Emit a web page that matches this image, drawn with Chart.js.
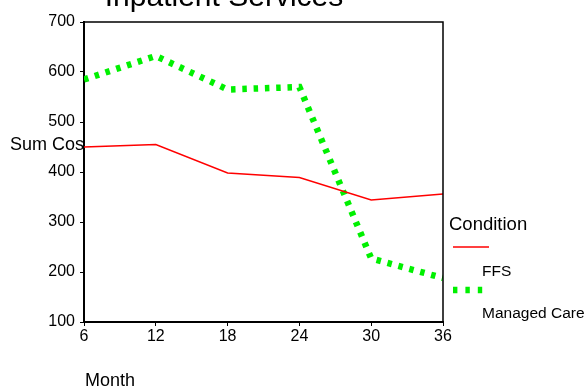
<!DOCTYPE html>
<html>
<head>
<meta charset="utf-8">
<script src="https://cdn.jsdelivr.net/npm/chart.js@4/dist/chart.umd.min.js"></script>
<style>
  html, body { margin: 0; padding: 0; background: #fff; }
  #wrap { width: 588px; height: 392px; position: relative; }
</style>
</head>
<body>
<div id="wrap"><canvas id="chart"></canvas></div>
<script>
// values
const months = [6, 12, 18, 24, 30, 36];
const ffsCost = [450, 455, 398, 389, 344, 356];
const managedCareCost = [585, 632, 565, 570, 227, 188];
const yTicks = [100, 200, 300, 400, 500, 600, 700];
const xTicks = [6, 12, 18, 24, 30, 36];

const FONT = '"Liberation Sans", Arial, sans-serif';
const toPoints = vals => months.map((m, i) => ({ x: m, y: vals[i] }));

// title, axis titles, frame and legend are drawn by hand to match the SPSS-style layout
const decorations = {
    id: 'decorations',
    afterDraw(chart) {
        const ctx = chart.ctx;
        const a = chart.chartArea;
        ctx.save();

        // frame top/right
        ctx.strokeStyle = '#000';
        ctx.lineWidth = 1.5;
        ctx.beginPath();
        ctx.moveTo(a.left, a.top);
        ctx.lineTo(a.right, a.top);
        ctx.lineTo(a.right, a.bottom);
        ctx.stroke();

        ctx.fillStyle = '#000';
        ctx.textBaseline = 'alphabetic';

        // title (runs off the top edge)
        ctx.font = '30px ' + FONT;
        ctx.textAlign = 'center';
        ctx.fillText('Inpatient Services', 224, 6);

        // y title, clipped by the plot frame
        ctx.save();
        ctx.beginPath();
        ctx.rect(0, 0, a.left - 1, chart.height);
        ctx.clip();
        ctx.font = '18px ' + FONT;
        ctx.textAlign = 'left';
        ctx.fillText('Sum Cost', 10, 150);
        ctx.restore();

        // x title
        ctx.font = '18px ' + FONT;
        ctx.textAlign = 'left';
        ctx.fillText('Month', 85, 386);

        // legend
        const ds = chart.data.datasets;
        ctx.font = '18.5px ' + FONT;
        ctx.fillText('Condition', 449, 230);

        ctx.strokeStyle = ds[0].borderColor;
        ctx.lineWidth = ds[0].borderWidth;
        ctx.beginPath();
        ctx.moveTo(453, 247);
        ctx.lineTo(489, 247);
        ctx.stroke();

        ctx.font = '15.5px ' + FONT;
        ctx.fillText(ds[0].label, 482, 276);

        ctx.strokeStyle = ds[1].borderColor;
        ctx.lineWidth = ds[1].borderWidth;
        ctx.setLineDash([4.4, 8]);
        ctx.beginPath();
        ctx.moveTo(453, 290);
        ctx.lineTo(483, 290);
        ctx.stroke();
        ctx.setLineDash([]);

        ctx.fillText(ds[1].label, 482, 318);

        ctx.restore();
    }
};

new Chart(document.getElementById('chart'), {
    type: 'line',
    data: {
        datasets: [
            { label: 'FFS', data: toPoints(ffsCost), borderColor: '#ff0000', borderWidth: 1.5, pointRadius: 0, tension: 0 },
            { label: 'Managed Care', data: toPoints(managedCareCost), borderColor: '#00f000', borderWidth: 6.5, borderDash: [4.5, 6.8], pointRadius: 0, tension: 0 }
        ]
    },
    options: {
        responsive: true,
        maintainAspectRatio: false,
        animation: false,
        layout: { padding: { left: 0, right: 145, top: 22, bottom: 0 } },
        plugins: { legend: { display: false }, tooltip: { enabled: false } },
        scales: {
            x: {
                type: 'linear',
                min: 6,
                max: 36,
                afterBuildTicks: s => { s.ticks = xTicks.map(v => ({ value: v })); },
                afterFit: s => { s.height = 70; },
                grid: { drawOnChartArea: false, drawTicks: true, tickLength: 4, color: '#000', lineWidth: 1 },
                border: { display: true, color: '#000', width: 2 },
                ticks: { color: '#000', padding: 1, maxRotation: 0, font: { family: FONT, size: 16 } }
            },
            y: {
                min: 100,
                max: 700,
                afterBuildTicks: s => { s.ticks = yTicks.map(v => ({ value: v })); },
                afterFit: s => { s.width = 84; },
                grid: { drawOnChartArea: false, drawTicks: true, tickLength: 4, color: '#000', lineWidth: 1 },
                border: { display: true, color: '#000', width: 2 },
                ticks: { color: '#000', padding: 5, font: { family: FONT, size: 16 } }
            }
        }
    },
    plugins: [decorations]
});
</script>
</body>
</html>
